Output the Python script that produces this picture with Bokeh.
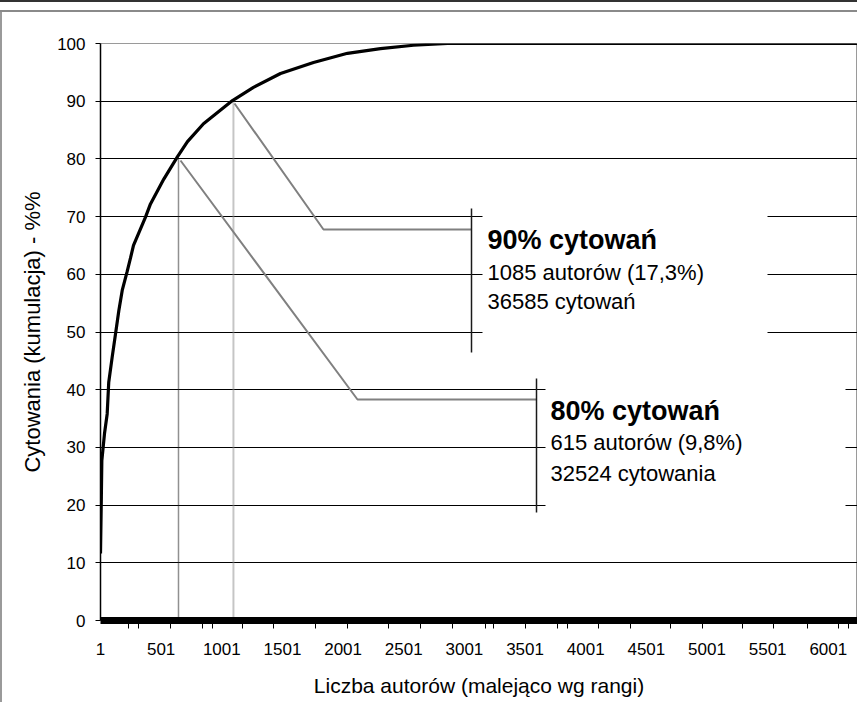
from bokeh.plotting import figure
from bokeh.models import Range1d, FixedTicker, Label, BoxAnnotation
from bokeh.embed import file_html
from bokeh.resources import INLINE

# ---------------- data ----------------
rank = [1, 8, 12, 34, 56, 69, 97, 125, 152, 180, 221, 248, 273, 372, 413,
        523, 636, 718, 850, 1089, 1262, 1485, 1757, 2037, 2309, 2581, 2862, 6272]
cum_pct = [11.6, 21.4, 27.7, 32.4, 35.8, 41.3, 45.6, 49.7, 53.7, 57.2, 60.5,
           62.8, 65.0, 69.9, 72.2, 76.5, 80.4, 83.0, 86.1, 90.1, 92.4, 94.8,
           96.7, 98.3, 99.1, 99.7, 100.0, 100.0]

x_tick_values = [1, 501, 1001, 1501, 2001, 2501, 3001, 3501, 4001, 4501,
                 5001, 5501, 6001]
x_minor_ticks = [232, 314, 578, 842, 924, 1172, 1427, 1773, 2037, 2375, 2639,
                 2903, 3175, 3241, 3505, 3769, 3851, 4107, 4370, 4700, 4964,
                 5294, 5549, 5829, 6085, 6168]
y_tick_values = [0, 10, 20, 30, 40, 50, 60, 70, 80, 90, 100]

marker_rank = [644, 1097]      # where the dotted guides stand
marker_pct = [80, 90]

callout_90 = ["90% cytowań", "1085 autorów (17,3%)", "36585 cytowań"]
callout_80 = ["80% cytowań", "615 autorów (9,8%)", "32524 cytowania"]

x_title = "Liczba autorów (malejąco wg rangi)"
y_title = "Cytowania (kumulacja) - %%"

# ---------------- layout ----------------
W, H = 857, 702
FL, FT, FB = 100, 43, 620          # frame left / top / bottom in page px
FW = W - FL
X0 = 1
X1 = 1 + FW / 0.1213

def nx(px):
    return X0 + (px - FL) * (X1 - X0) / FW

def vy(py):
    return (FB - py) * 100.0 / (FB - FT)

FONT = "Liberation Sans"

p = figure(width=W, height=H, output_backend="svg", toolbar_location=None,
           x_range=Range1d(X0, X1), y_range=Range1d(0, 100),
           min_border_left=FL, min_border_right=0, min_border_top=FT,
           min_border_bottom=H - FB)
p.background_fill_color = "white"
# transparent surround so the host's CSS background (chart border lines) shows
p.border_fill_color = "white"
p.border_fill_alpha = 0.0
p.styles = {
    "background": ("linear-gradient(#333333,#333333) 0 0 / 100% 2px no-repeat, "
                   "linear-gradient(#8a8a8a,#8a8a8a) 0 10px / 100% 2px no-repeat, "
                   "linear-gradient(#9a9a9a,#9a9a9a) 0 10px / 2px 100% no-repeat, "
                   "white"),
}
p.outline_line_color = "#9a9a9a"
p.outline_line_width = 1

# axes
xa = p.xaxis[0]
xa.ticker = FixedTicker(ticks=x_tick_values, minor_ticks=x_minor_ticks)
xa.axis_line_width = 7
xa.axis_line_color = "black"
xa.major_tick_out = 0
xa.major_tick_in = 0
xa.minor_tick_out = 8
xa.minor_tick_in = 0
xa.minor_tick_line_color = "black"
xa.major_label_standoff = 14
xa.major_label_text_font = FONT
xa.major_label_text_font_size = "17px"
xa.major_label_text_color = "black"
xa.axis_label = x_title
xa.axis_label_text_font = FONT
xa.axis_label_text_font_size = "21px"
xa.axis_label_text_font_style = "normal"
xa.axis_label_text_color = "black"
xa.axis_label_standoff = 16

ya = p.yaxis[0]
ya.ticker = FixedTicker(ticks=y_tick_values)
ya.axis_line_width = 1.5
ya.axis_line_color = "black"
ya.major_tick_out = 5
ya.major_tick_in = 0
ya.major_tick_line_color = "black"
ya.minor_tick_out = 0
ya.minor_tick_in = 0
ya.major_label_standoff = 10
ya.major_label_text_font = FONT
ya.major_label_text_font_size = "17px"
ya.major_label_text_color = "black"
ya.axis_label = y_title
ya.axis_label_text_font = FONT
ya.axis_label_text_font_size = "22px"
ya.axis_label_text_font_style = "normal"
ya.axis_label_text_color = "black"
ya.axis_label_standoff = 9

p.xgrid.visible = False
p.ygrid.ticker = FixedTicker(ticks=y_tick_values[:-1])
p.ygrid.grid_line_color = "black"
p.ygrid.grid_line_width = 1

# white boxes behind the call-out texts (hide the grid lines)
for (l, r, t, b) in [(482, 767, 205, 352), (545, 845, 376, 514)]:
    p.add_layout(BoxAnnotation(left=nx(l), right=nx(r), top=vy(t), bottom=vy(b),
                               fill_color="white", fill_alpha=1.0,
                               line_color=None, level="underlay"))

# dotted guide lines
p.segment(x0=[marker_rank[0]], y0=[0], x1=[marker_rank[0]], y1=[marker_pct[0]],
          line_color="#222222", line_width=1.5, line_dash="1 1")
p.segment(x0=[marker_rank[1]], y0=[0], x1=[marker_rank[1]], y1=[marker_pct[1]],
          line_color="#8c8c8c", line_width=2, line_dash="1 1")

# call-out leader lines
p.line([nx(234), nx(323), nx(471)], [vy(103), vy(229), vy(229)],
       line_color="#808080", line_width=2)
p.line([nx(180), nx(357), nx(536)], [vy(160), vy(399), vy(399)],
       line_color="#808080", line_width=2)
# brackets
p.segment(x0=[nx(471), nx(536)], y0=[vy(208), vy(378)],
          x1=[nx(471), nx(536)], y1=[vy(352), vy(512)],
          line_color="#1a1a1a", line_width=1.5)

# cumulative curve
p.line(rank, cum_pct, line_color="black", line_width=3.2)

# call-out texts
def add_callout(lines, px, base_ys):
    for i, (txt, by) in enumerate(zip(lines, base_ys)):
        p.add_layout(Label(x=nx(px), y=vy(by), text=txt, text_font=FONT,
                           text_font_size="27px" if i == 0 else "22px",
                           text_font_style="bold" if i == 0 else "normal",
                           text_color="black", text_baseline="alphabetic",
                           text_align="left"))

add_callout(callout_90, 487, [239, 272, 301])
add_callout(callout_80, 550, [410, 442, 473])

open("out.html", "w").write(file_html(p, INLINE))
